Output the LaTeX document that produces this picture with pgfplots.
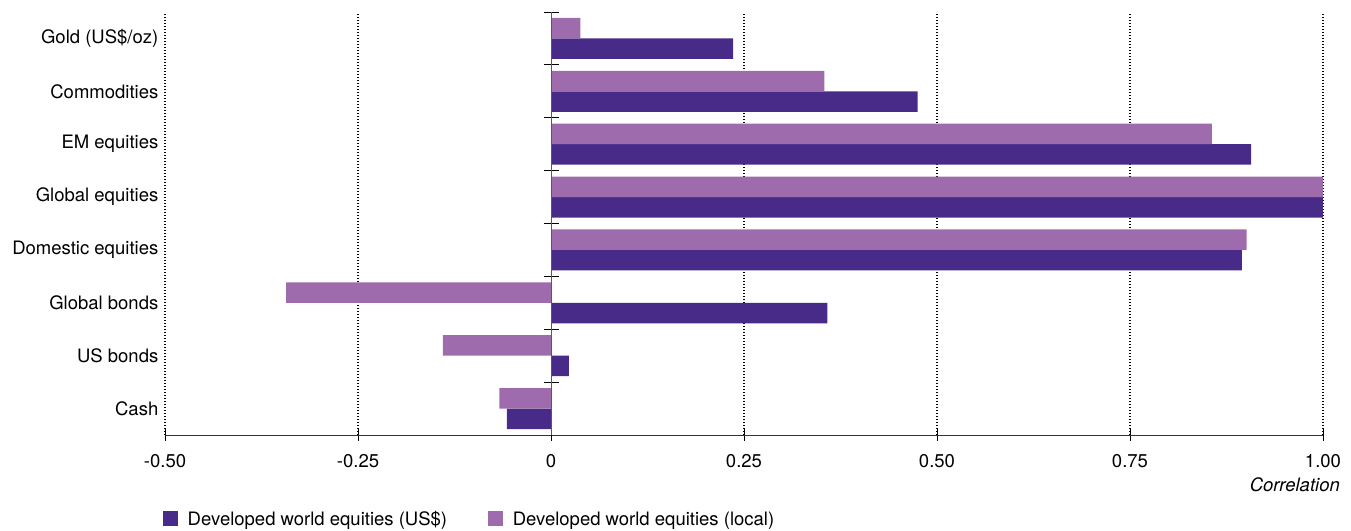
\documentclass[border=0pt]{standalone}
\usepackage{fontspec}
\setmainfont{TeX Gyre Heros}
\usepackage{pgfplots}
\pgfplotsset{compat=1.18}
\definecolor{dark}{HTML}{482B89}
\definecolor{light}{HTML}{9E6CAC}
\begin{document}
\fontsize{18.5}{22}\selectfont
\begin{tikzpicture}
\useasboundingbox (0,0) rectangle (1351pt,530pt);
\begin{axis}[
  at={(165pt,95pt)}, anchor=south west,
  scale only axis, width=1158pt, height=423pt,
  xmin=-0.5, xmax=1, ymin=-0.5, ymax=7.5,
  axis x line*=bottom, axis y line*=left,
  y axis line style={draw=none},
  x axis line style={black!80, line width=0.8pt},
  xtick={-0.5,-0.25,0.25,0.5,0.75,1},
  xticklabels={-0.50,-0.25,0.25,0.50,0.75,1.00},
  extra x ticks={0}, extra x tick labels={0}, extra x tick style={grid=none},
  xmajorgrids, grid style={black, dash pattern=on 1.2pt off 1.8pt, line width=1.2pt},
  tick align=center, major tick length=11pt,
  x tick style={black, line width=0.8pt},
  ytick={0,...,7},
  yticklabels={Cash,US bonds,Global bonds,Domestic equities,Global equities,EM equities,Commodities,Gold (US\$/oz)},
  y tick style={draw=none},
  /pgf/number format/assume math mode=true,
  tick label style={font=\fontsize{18.5}{22}\selectfont},
  xticklabel style={inner sep=0pt, anchor=north, yshift=-14pt},
  yticklabel style={inner sep=0pt, anchor=east, xshift=-1pt},
  legend columns=2,
  legend style={at={(axis description cs:-0.0017,-0.2215)}, anchor=south west, draw=none, fill=none,
    inner sep=0pt, outer sep=0pt,
    nodes={inner sep=0pt, outer sep=0pt},
    font=\fontsize{18.5}{22}\selectfont,
    /tikz/every odd column/.append style={column sep=9.7pt},
    /tikz/every even column/.append style={column sep=41pt}},
  legend image code/.code={\draw[#1, draw=none] (0pt,-6pt) rectangle (15pt,9pt);},
]
\addplot[xbar, bar width=0.388, bar shift=-0.194, fill=dark, draw=none] coordinates {
  (0.236,7) (0.475,6) (0.907,5) (1.0,4) (0.895,3) (0.358,2) (0.023,1) (-0.057,0)};
\addlegendentry{Developed world equities (US\$)}
\addplot[xbar, bar width=0.388, bar shift=0.194, fill=light, draw=none] coordinates {
  (0.038,7) (0.354,6) (0.856,5) (1.0,4) (0.901,3) (-0.343,2) (-0.140,1) (-0.067,0)};
\addlegendentry{Developed world equities (local)}
\end{axis}
\begin{axis}[
  at={(165pt,95pt)}, anchor=south west,
  scale only axis, width=1158pt, height=423pt,
  xmin=-0.5, xmax=1, ymin=-0.5, ymax=7.5,
  axis x line=none, axis y line=middle,
  y axis line style={black!65, line width=1pt, -},
  xtick=\empty,
  ytick={0.5,1.5,2.5,3.5,4.5,5.5,6.5,7.5}, yticklabels={},
  tick align=center, major tick length=15pt,
  y tick style={black, line width=0.8pt},
]
\end{axis}
\node[anchor=east, font=\itshape, inner sep=0pt] at (1340pt,45pt) {Correlation};
\end{tikzpicture}
\end{document}
